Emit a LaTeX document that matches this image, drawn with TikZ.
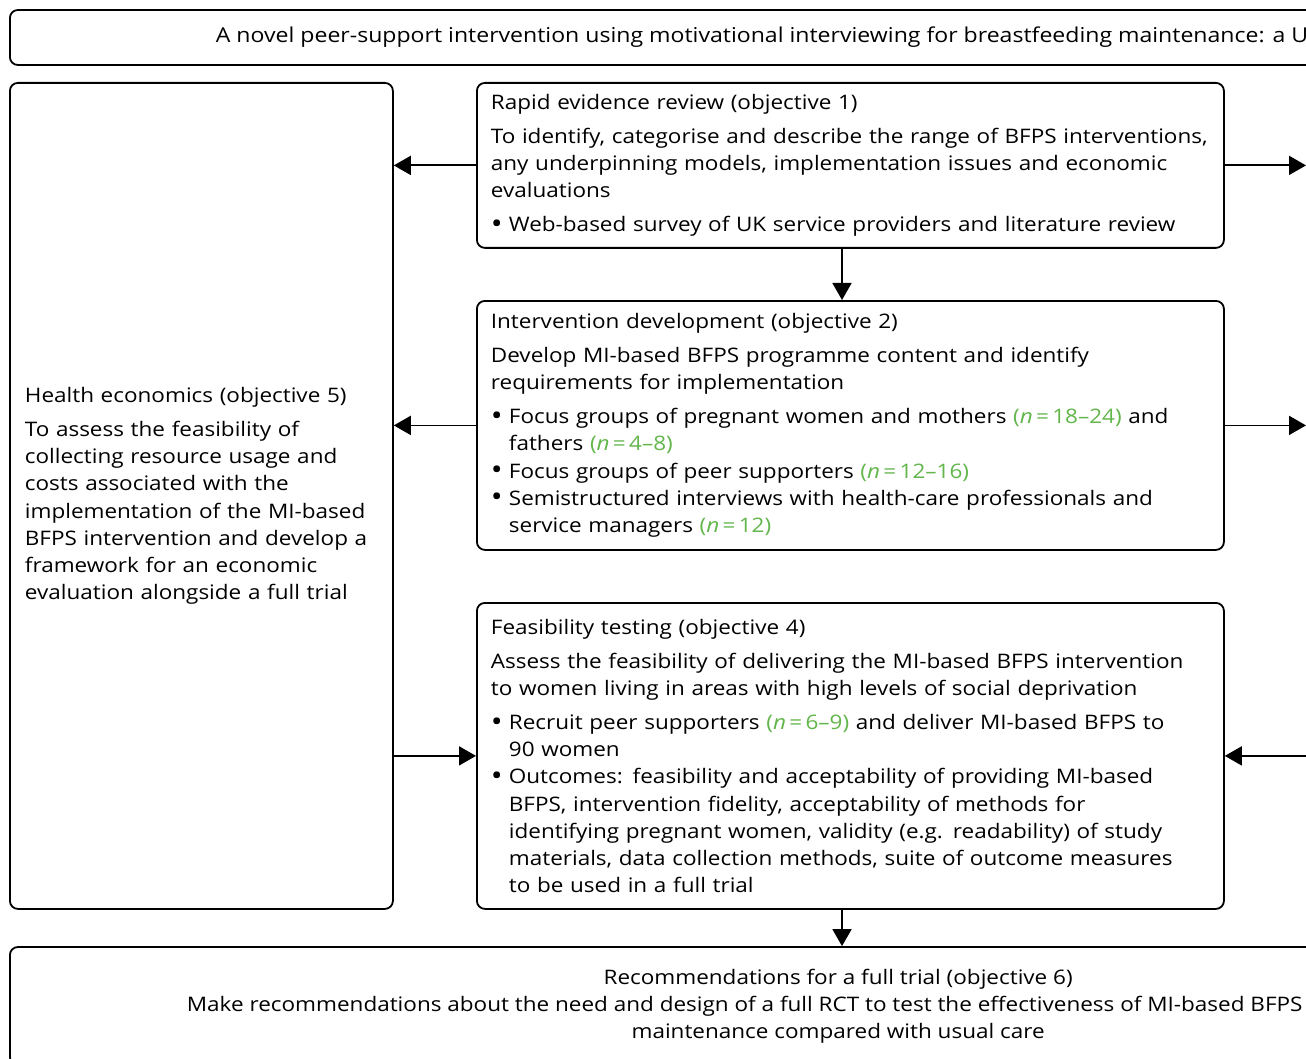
\documentclass[tikz,border=0pt]{standalone}
\usepackage{fontspec}
\setmainfont{Open Sans}[FakeStretch=1.125]
\usetikzlibrary{arrows.meta}
\definecolor{nGreen}{RGB}{98,182,75}
\newcommand\fs{\fontsize{20}{27.2}\selectfont}
\newcommand\gn[1]{\textcolor{nGreen}{#1}}
\newcommand\bul{\makebox[18pt][l]{\raisebox{-1.6pt}{\scalebox{1.4}{•}}}}
\newcommand\ind{\hspace*{18pt}}
\tikzset{
  box/.style={draw, line width=1.8pt, rounded corners=8pt, align=left, inner xsep=14pt, inner ysep=0pt, anchor=north west, font=\fs},
  arr/.style={-{Triangle[length=17pt,width=19pt]}, line width=1.8pt}
}
\begin{document}
\begin{tikzpicture}[x=1pt,y=-1pt]
\useasboundingbox (0,0) rectangle (1306,1059);
\clip (0,0) rectangle (1306,1059);
\fill[white] (0,0) rectangle (1306,1059);
\node[draw, line width=1.8pt, rounded corners=8pt, anchor=west, inner xsep=206pt, minimum height=55pt, font=\fontsize{20.5}{27}\selectfont] (title) at (9,37.5)
  {A novel peer-support intervention using motivational interviewing for breastfeeding maintenance: a UK feasibility study};
\node[box, text width=353pt, inner xsep=15pt, minimum height=826pt] (he) at (9,82) {Health economics (objective 5)\\[6.8pt]
To assess the feasibility of\\ collecting resource usage and\\ costs associated with the\\ implementation of the MI-based\\ BFPS intervention and develop a\\ framework for an economic\\ evaluation alongside a full trial};
\node[box, text width=719pt, minimum height=165pt] (rev) at (476,82) {Rapid evidence review (objective 1)\\[6.8pt]
To identify, categorise and describe the range of BFPS interventions,\\
any underpinning models, implementation issues and economic\\
evaluations\\[6.8pt]
\bul Web-based survey of UK service providers and literature review};
\node[box, text width=719pt, minimum height=249pt] (dev) at (476,300) {Intervention development (objective 2)\\[6.8pt]
Develop MI-based BFPS programme content and identify\\
requirements for implementation\\[6.8pt]
\bul Focus groups of pregnant women and mothers \gn{(\textit{n}\,=\,18–24)} and\\
\ind fathers \gn{(\textit{n}\,=\,4–8)}\\
\bul Focus groups of peer supporters \gn{(\textit{n}\,=\,12–16)}\\
\bul Semistructured interviews with health-care professionals and\\
\ind service managers \gn{(\textit{n}\,=\,12)}};
\node[box, text width=719pt, minimum height=306pt] (feas) at (476,602) {Feasibility testing (objective 4)\\[6.8pt]
Assess the feasibility of delivering the MI-based BFPS intervention\\
to women living in areas with high levels of social deprivation\\[6.8pt]
\bul Recruit peer supporters \gn{(\textit{n}\,=\,6–9)} and deliver MI-based BFPS to\\
\ind 90 women\\
\bul Outcomes: feasibility and acceptability of providing MI-based\\
\ind BFPS, intervention fidelity, acceptability of methods for\\
\ind identifying pregnant women, validity (e.g. readability) of study\\
\ind materials, data collection methods, suite of outcome measures\\
\ind to be used in a full trial};
\node[draw, line width=1.8pt, rounded corners=8pt, anchor=west, align=center, inner xsep=177pt, inner ysep=0pt, minimum height=118pt, font=\fs] (rec) at (9,1006)
  {Recommendations for a full trial (objective 6)\\
Make recommendations about the need and design of a full RCT to test the effectiveness of MI-based BFPS for breastfeeding\\
maintenance compared with usual care};
\coordinate (rEdge) at (1306,0);
\coordinate (rFar) at (1340,0);
\coordinate (vx) at (842,0);
\draw[arr] (rev.west) -- (rev.west -| he.east);
\draw[arr] (dev.west) -- (dev.west -| he.east);
\draw[arr] (feas.west -| he.east) -- (feas.west);
\draw[arr] (rev.east) -- (rev.east -| rEdge);
\draw[arr] (dev.east) -- (dev.east -| rEdge);
\draw[arr] (feas.east -| rFar) -- (feas.east);
\draw[arr] (rev.south -| vx) -- (dev.north -| vx);
\draw[arr] (feas.south -| vx) -- (rec.north -| vx);
\end{tikzpicture}
\end{document}
